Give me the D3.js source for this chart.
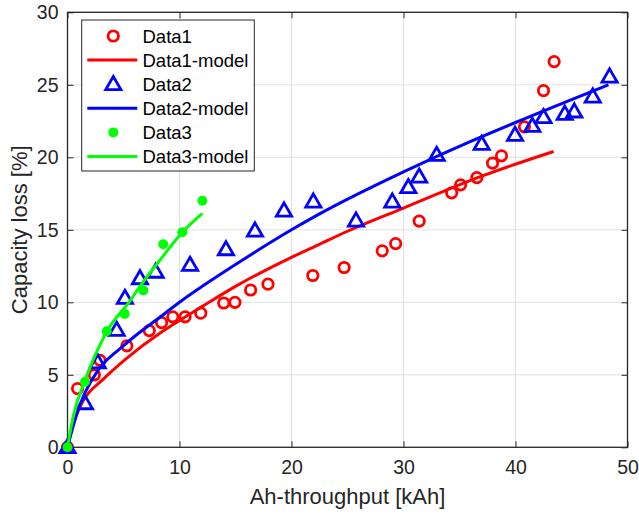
<!DOCTYPE html>
<html>
<head>
<meta charset="utf-8">
<script src="https://cdn.jsdelivr.net/npm/d3@7"></script>
<style>
  html, body { margin: 0; padding: 0; background: #fff; }
  svg { display: block; font-family: "Liberation Sans", Arial, Helvetica, sans-serif; }
</style>
</head>
<body>
<svg id="chart" width="639" height="517"></svg>
<script>
// Measured capacity loss vs. Ah-throughput, three cells, with fitted model curves
const data1X = [0, 0.9, 2.4, 2.9, 5.3, 7.3, 8.4, 9.4, 10.5, 11.9, 13.95, 14.95, 16.35, 17.9, 21.9, 24.7, 28.1, 29.3, 31.4, 34.3, 35.1, 36.55, 37.95, 38.75, 40.8, 42.5, 43.45];
const data1Y = [0, 4.05, 5.0, 6.0, 7.0, 8.05, 8.6, 9.0, 9.0, 9.25, 9.95, 10.0, 10.85, 11.25, 11.85, 12.4, 13.55, 14.05, 15.6, 17.55, 18.1, 18.6, 19.6, 20.1, 22.1, 24.6, 26.6];

const model1X = [0, 0.5, 1.4, 3.2, 5.3, 8.3, 10, 12, 15, 20, 22.5, 25, 30, 36.8, 43.4];
const model1Y = [0, 1.6, 3.2, 4.7, 6.15, 7.9, 8.75, 9.7, 11.1, 13.1, 14.0, 14.9, 16.5, 18.65, 20.4];

const data2X = [0, 1.56, 2.7, 4.39, 5.13, 6.47, 7.87, 10.94, 14.15, 16.74, 19.33, 21.95, 25.76, 29.0, 30.43, 31.4, 32.96, 36.98, 39.96, 41.5, 42.5, 44.4, 45.25, 46.9, 48.4];
const data2Y = [0, 3.03, 5.85, 8.09, 10.3, 11.65, 12.1, 12.57, 13.65, 14.94, 16.32, 16.94, 15.63, 16.94, 17.93, 18.66, 20.16, 20.92, 21.54, 22.16, 22.76, 22.99, 23.15, 24.18, 25.56];

const model2X = [0, 0.5, 1.3, 2.3, 5.3, 8.3, 10, 15, 20, 22.5, 30, 36, 40, 48.3];
const model2Y = [0, 1.45, 3.3, 4.8, 7.2, 9.0, 10.0, 12.6, 15.0, 16.1, 19.0, 21.1, 22.4, 25.0];

const data3X = [0, 1.56, 3.5, 5.1, 6.77, 8.55, 10.25, 12.04];
const data3Y = [0, 4.52, 8.0, 9.2, 10.82, 14.0, 14.83, 17.0];

const model3X = [0, 0.5, 1.56, 3.5, 5.58, 6.47, 8.55, 10.25, 12.04];
const model3Y = [0, 2.1, 4.6, 7.97, 10.1, 11.1, 13.2, 14.83, 16.14];

const xTicks = [0, 10, 20, 30, 40, 50];
const yTicks = [0, 5, 10, 15, 20, 25, 30];

const legendLabels = ["Data1", "Data1-model", "Data2", "Data2-model", "Data3", "Data3-model"];

const RED = "#ff0000", BLUE = "#0000ff", GREEN = "#00ff00";
const AXIS = "#262626", GRID = "#e1e1e1";

const zip = (xs, ys) => xs.map((x, i) => ({ x, y: ys[i] }));

const svg = d3.select("#chart");
const plotL = 67.5, plotR = 627.5, plotT = 12.3, plotB = 447.3;

const x = d3.scaleLinear().domain([0, 50]).range([plotL, plotR]);
const y = d3.scaleLinear().domain([0, 30]).range([plotB, plotT]);

svg.append("rect").attr("width", 639).attr("height", 517).attr("fill", "#fff");

// grid
const grid = svg.append("g").attr("stroke", GRID).attr("stroke-width", 1);
xTicks.forEach(t => grid.append("line")
  .attr("x1", x(t)).attr("x2", x(t)).attr("y1", plotT).attr("y2", plotB));
yTicks.forEach(t => grid.append("line")
  .attr("x1", plotL).attr("x2", plotR).attr("y1", y(t)).attr("y2", y(t)));

// axes with inward ticks on all four sides
const tickLen = 6;
const axB = svg.append("g").attr("transform", `translate(0,${plotB})`)
  .call(d3.axisBottom(x).tickValues(xTicks).tickSizeInner(-tickLen).tickSizeOuter(0).tickPadding(13));
const axT = svg.append("g").attr("transform", `translate(0,${plotT})`)
  .call(d3.axisTop(x).tickValues(xTicks).tickSizeInner(-tickLen).tickSizeOuter(0).tickFormat(""));
const axL = svg.append("g").attr("transform", `translate(${plotL},0)`)
  .call(d3.axisLeft(y).tickValues(yTicks).tickSizeInner(-tickLen).tickSizeOuter(0).tickPadding(9));
const axR = svg.append("g").attr("transform", `translate(${plotR},0)`)
  .call(d3.axisRight(y).tickValues(yTicks).tickSizeInner(-tickLen).tickSizeOuter(0).tickFormat(""));

[axB, axT, axL, axR].forEach(g => {
  g.select(".domain").remove();
  g.selectAll(".tick line").attr("stroke", AXIS).attr("stroke-width", 1);
  g.selectAll(".tick text").attr("fill", AXIS).attr("font-size", 19.5)
    .attr("font-family", "Liberation Sans, Arial, sans-serif");
});
axB.selectAll(".tick text").attr("dy", "0.72em");

svg.append("rect")
  .attr("x", plotL).attr("y", plotT).attr("width", plotR - plotL).attr("height", plotB - plotT)
  .attr("fill", "none").attr("stroke", AXIS).attr("stroke-width", 1.3);

// axis titles
svg.append("text")
  .attr("x", (plotL + plotR) / 2).attr("y", 504)
  .attr("text-anchor", "middle").attr("font-size", 22).attr("fill", AXIS)
  .text("Ah-throughput [kAh]");
svg.append("text")
  .attr("transform", `translate(27,${(plotT + plotB) / 2}) rotate(-90)`)
  .attr("text-anchor", "middle").attr("font-size", 22).attr("fill", AXIS)
  .text("Capacity loss [%]");

const line = d3.line().x(d => x(d.x)).y(d => y(d.y)).curve(d3.curveMonotoneX);
const plot = svg.append("g");

// marker painters
const circleMark = (g, cx, cy, c) => g.append("circle")
  .attr("cx", cx).attr("cy", cy).attr("r", 5.2)
  .attr("fill", "none").attr("stroke", c).attr("stroke-width", 2.8);
const triPath = d3.symbol().type(d3.symbolTriangle).size(100);
const triMark = (g, cx, cy, c) => g.append("path")
  .attr("d", triPath()).attr("transform", `translate(${cx},${cy + 1})`)
  .attr("fill", "none").attr("stroke", c).attr("stroke-width", 2.8).attr("stroke-linejoin", "miter");
const dotMark = (g, cx, cy, c) => g.append("circle")
  .attr("cx", cx).attr("cy", cy).attr("r", 5).attr("fill", c);

const series = [
  { pts: zip(data1X, data1Y), mark: circleMark, color: RED },
  { pts: zip(model1X, model1Y), color: RED },
  { pts: zip(data2X, data2Y), mark: triMark, color: BLUE },
  { pts: zip(model2X, model2Y), color: BLUE },
  { pts: zip(data3X, data3Y), mark: dotMark, color: GREEN },
  { pts: zip(model3X, model3Y), color: GREEN }
];

series.forEach(s => {
  if (s.mark) {
    const g = plot.append("g");
    s.pts.forEach(p => s.mark(g, x(p.x), y(p.y), s.color));
  } else {
    plot.append("path").datum(s.pts)
      .attr("d", line).attr("fill", "none")
      .attr("stroke", s.color).attr("stroke-width", 3);
  }
});

// legend
const leg = svg.append("g");
leg.append("rect").attr("x", 81.7).attr("y", 20).attr("width", 172.6).attr("height", 151)
  .attr("fill", "#fff").attr("stroke", AXIS).attr("stroke-width", 1);
series.forEach((s, i) => {
  const ry = 36 + i * 24.1;
  if (s.mark) s.mark(leg, 113.3, ry, s.color);
  else leg.append("line").attr("x1", 87.3).attr("x2", 137.3).attr("y1", ry).attr("y2", ry)
    .attr("stroke", s.color).attr("stroke-width", 3);
  leg.append("text").attr("x", 142.5).attr("y", ry + 6.6)
    .attr("font-size", 18.5).attr("fill", "#000").text(legendLabels[i]);
});
</script>
</body>
</html>
